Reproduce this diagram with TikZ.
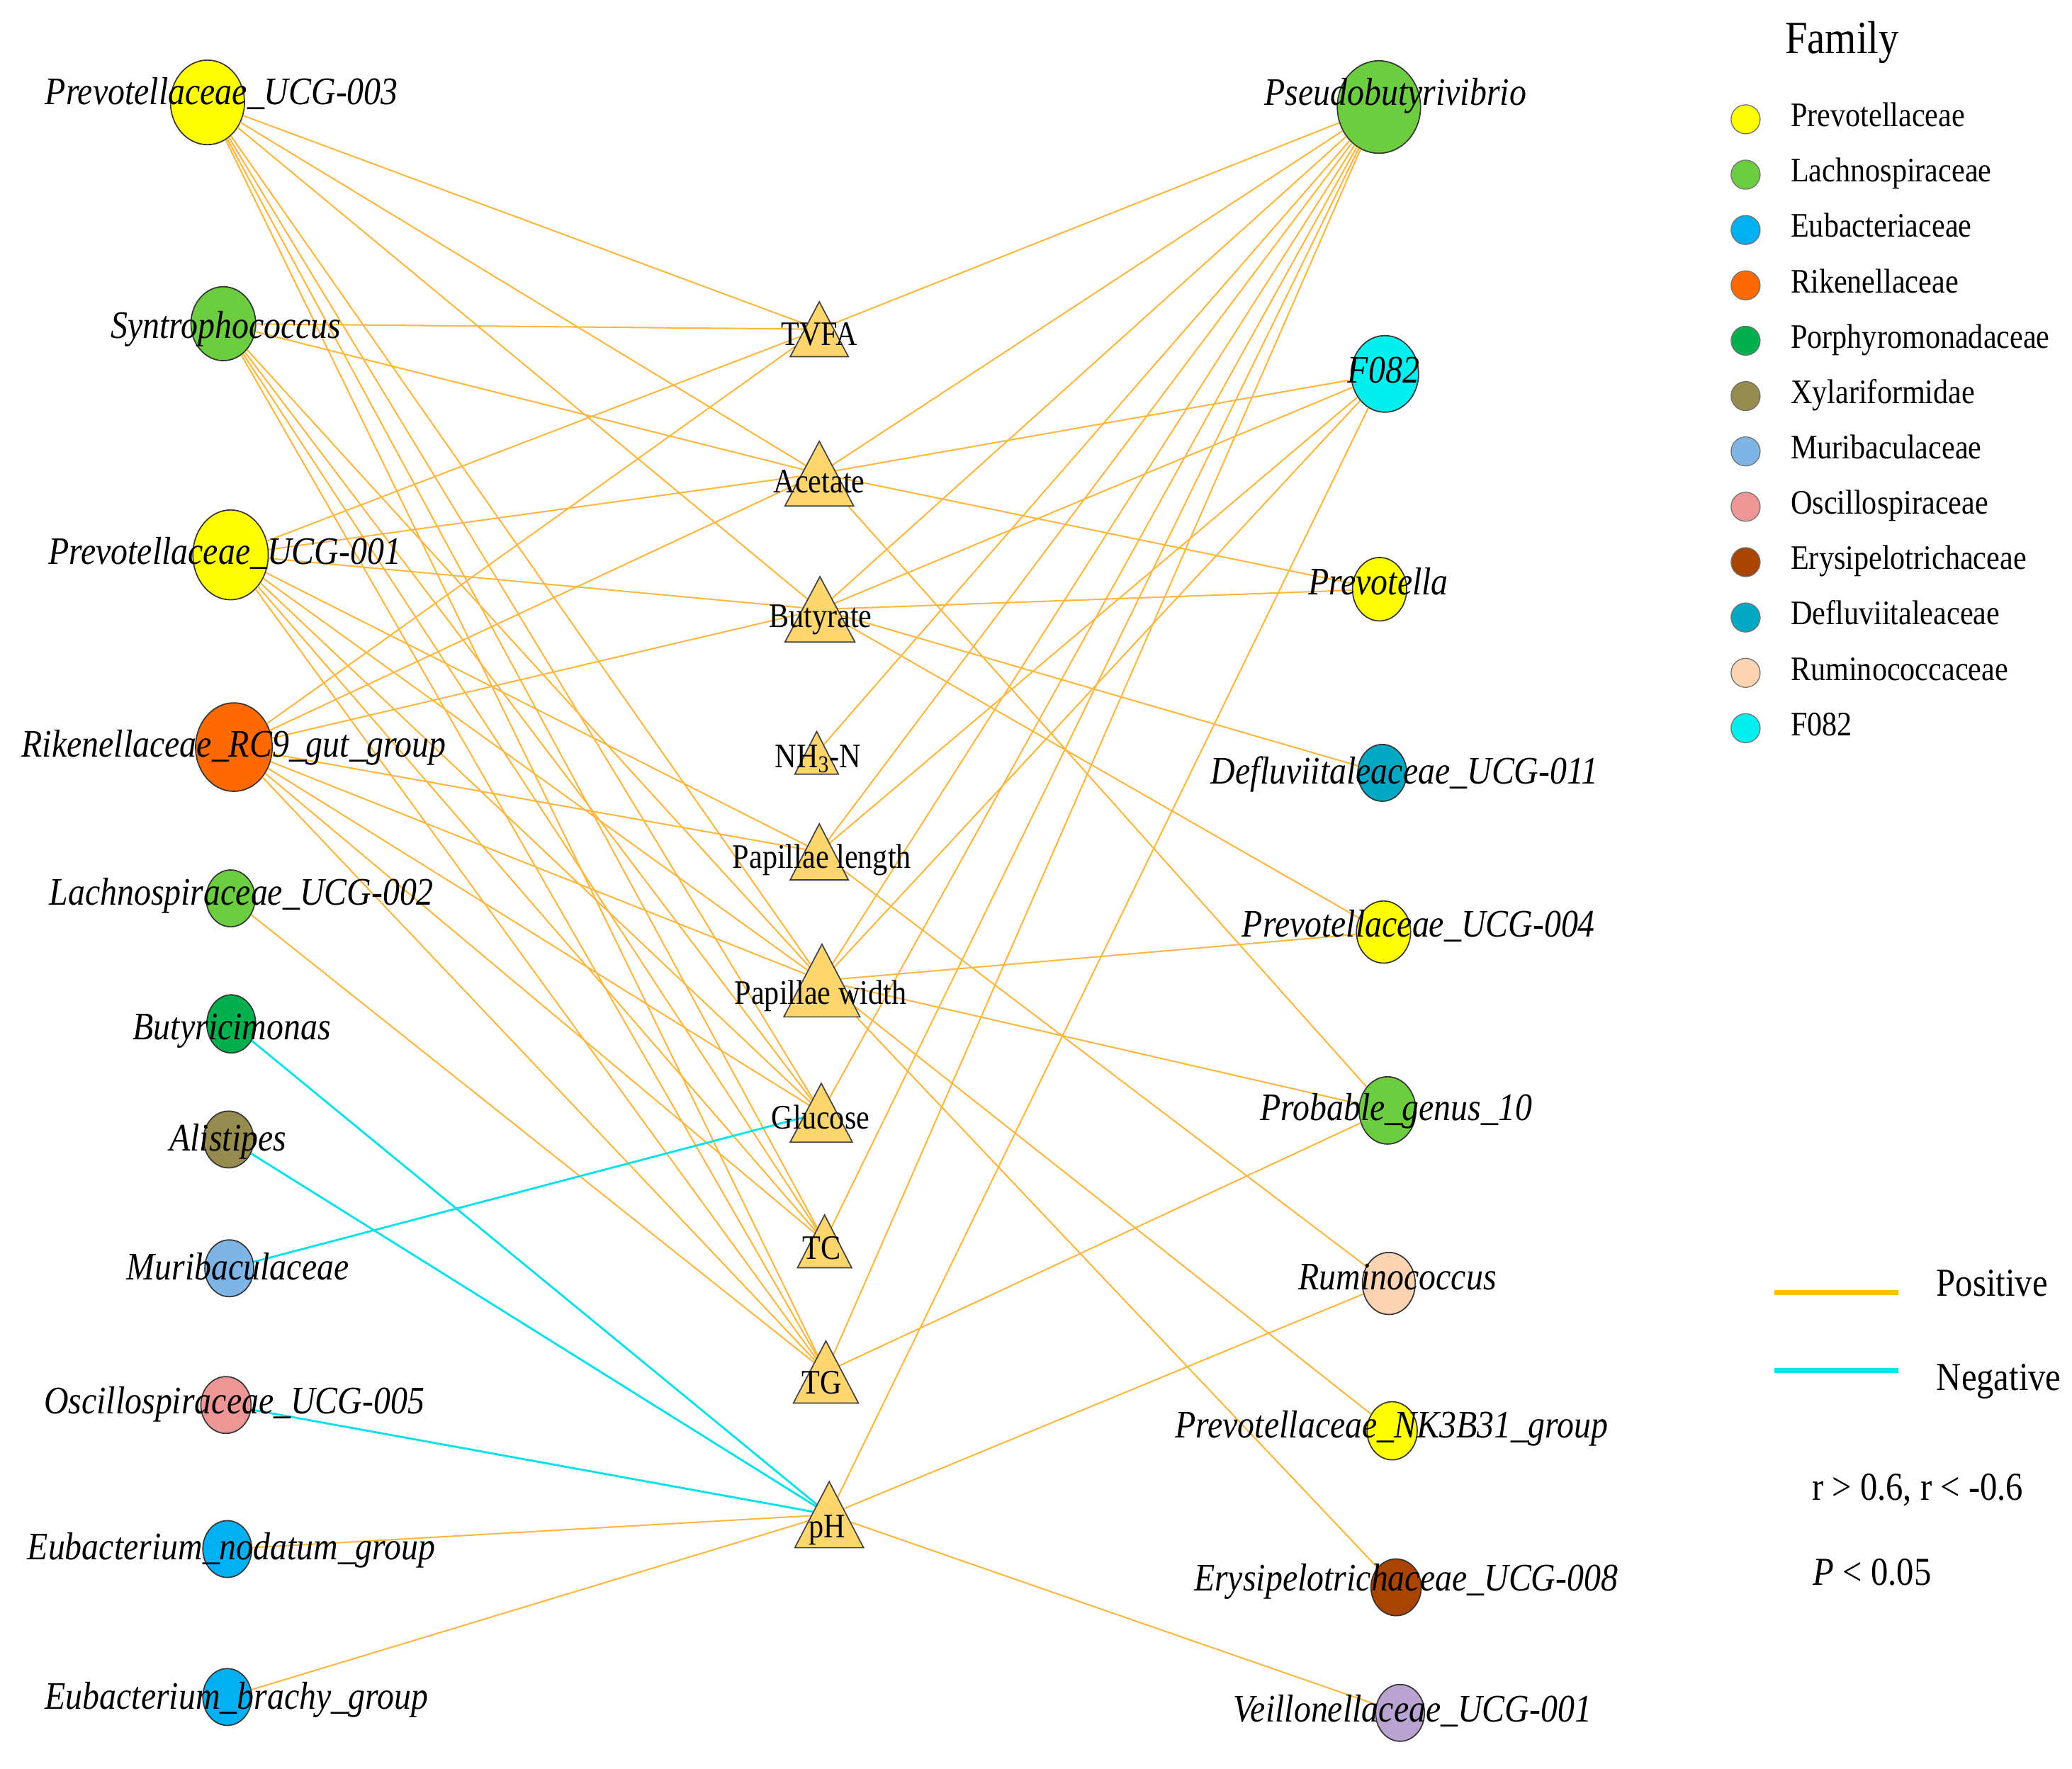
\documentclass[tikz,border=0pt]{standalone}
\usepackage{fontspec}
\setmainfont{Liberation Serif}[FakeStretch=0.87]
\usetikzlibrary{shapes.geometric}
\definecolor{edgeor}{RGB}{255,183,64}
\definecolor{edgecy}{RGB}{0,226,234}
\definecolor{legor}{RGB}{255,192,0}
\definecolor{legcy}{RGB}{0,229,240}
\definecolor{trifill}{RGB}{255,214,110}
\definecolor{cPrev}{HTML}{FFFF00}
\definecolor{cLach}{HTML}{6BCD3F}
\definecolor{cEuba}{HTML}{00B0F0}
\definecolor{cRike}{HTML}{FF6A00}
\definecolor{cPorp}{HTML}{00B04F}
\definecolor{cXyla}{HTML}{968B4E}
\definecolor{cMuri}{HTML}{7EB4E6}
\definecolor{cOsci}{HTML}{EE9595}
\definecolor{cErys}{HTML}{A84400}
\definecolor{cDefl}{HTML}{00A8C4}
\definecolor{cRumi}{HTML}{FDD3B2}
\definecolor{cF}{HTML}{00F0F0}
\definecolor{cVeil}{HTML}{B9A3D1}
\tikzset{
  circ/.style={ellipse, draw=black!80, line width=0.9pt, inner sep=0pt},
  posedge/.style={draw=edgeor, line width=1.1pt},
  negedge/.style={draw=edgecy, line width=1.5pt},
  tristyle/.style={fill=trifill, draw=black!75, line width=0.9pt, line join=miter},
  tlab/.style={font=\fontsize{26}{30}\selectfont, inner sep=0pt, text height=0.66em, text depth=0pt},
  clab/.style={font=\fontsize{29.5}{34}\selectfont\itshape, inner sep=0pt, text height=0.66em, text depth=0pt},
  glab/.style={font=\fontsize{26}{30}\selectfont, inner sep=0pt, text height=0.66em, text depth=0pt, anchor=west},
  klab/.style={font=\fontsize{30}{34}\selectfont, inner sep=0pt, text height=0.66em, text depth=0pt, anchor=west},
  gdot/.style={circ, line width=0.7pt, draw=black!55, minimum size=22pt},
  legline/.style={line width=3.8pt},
}
\newcommand\trishape[4]{\draw[tristyle] (#1-#4,#3) -- (#1,#2) -- (#1+#4,#3) -- cycle;}
\begin{document}
\begin{tikzpicture}[x=1pt,y=-1pt]
\useasboundingbox (0,0) rectangle (1568,1338.5);
% triangle centres
\coordinate (T1) at (620,249.2);
\coordinate (T2) at (620,358.5);
\coordinate (T3) at (620.5,461.25);
\coordinate (T4) at (618,569.85);
\coordinate (T5) at (620,644.8);
\coordinate (T6) at (622,742.2);
\coordinate (T7) at (621.5,842.25);
\coordinate (T8) at (624,939.6);
\coordinate (T9) at (625,1038.5);
\coordinate (T10) at (627.5,1146.5);
% left circles
\node[circ, fill=cPrev, minimum width=56pt, minimum height=64pt] (L1) at (157,77.5) {};
\node[circ, fill=cLach, minimum width=49pt, minimum height=56pt] (L2) at (169,245) {};
\node[circ, fill=cPrev, minimum width=57pt, minimum height=68pt] (L3) at (174.5,420) {};
\node[circ, fill=cRike, minimum width=58pt, minimum height=67pt] (L4) at (177,565.5) {};
\node[circ, fill=cLach, minimum width=37pt, minimum height=43pt] (L5) at (174.5,680) {};
\node[circ, fill=cPorp, minimum width=37pt, minimum height=44pt] (L6) at (175,775) {};
\node[circ, fill=cXyla, minimum width=38pt, minimum height=43pt] (L7) at (173,862.5) {};
\node[circ, fill=cMuri, minimum width=37pt, minimum height=43pt] (L8) at (173.5,960) {};
\node[circ, fill=cOsci, minimum width=38pt, minimum height=43pt] (L9) at (171,1063.5) {};
\node[circ, fill=cEuba, minimum width=37pt, minimum height=43pt] (L10) at (172,1172.5) {};
\node[circ, fill=cEuba, minimum width=37pt, minimum height=43pt] (L11) at (172,1284.5) {};
% right circles
\node[circ, fill=cLach, minimum width=63pt, minimum height=70pt] (R1) at (1043.5,81) {};
\node[circ, fill=cF, minimum width=51pt, minimum height=58pt] (R2) at (1048,283) {};
\node[circ, fill=cPrev, minimum width=41pt, minimum height=48pt] (R3) at (1044,446) {};
\node[circ, fill=cDefl, minimum width=37pt, minimum height=43pt] (R4) at (1046,585) {};
\node[circ, fill=cPrev, minimum width=41pt, minimum height=47pt] (R5) at (1047,705.5) {};
\node[circ, fill=cLach, minimum width=43pt, minimum height=51pt] (R6) at (1050,840.5) {};
\node[circ, fill=cRumi, minimum width=40pt, minimum height=47pt] (R7) at (1051,971.5) {};
\node[circ, fill=cPrev, minimum width=38pt, minimum height=44pt] (R8) at (1053.5,1083) {};
\node[circ, fill=cErys, minimum width=38pt, minimum height=43pt] (R9) at (1056.5,1201.5) {};
\node[circ, fill=cVeil, minimum width=37pt, minimum height=43pt] (R10) at (1059.5,1296.5) {};
% edges
\foreach \tg in {T1,T2,T3,T6,T7,T8,T9} \draw[posedge] (L1) -- (\tg);
\foreach \tg in {T1,T2,T6,T7,T8,T9} \draw[posedge] (L2) -- (\tg);
\foreach \tg in {T1,T2,T3,T5,T6,T7,T8,T9} \draw[posedge] (L3) -- (\tg);
\foreach \tg in {T1,T2,T3,T5,T6,T7,T8,T9} \draw[posedge] (L4) -- (\tg);
\draw[posedge] (L5) -- (T9);
\draw[negedge] (L6) -- (T10);
\draw[negedge] (L7) -- (T10);
\draw[negedge] (L8) -- (T7);
\draw[negedge] (L9) -- (T10);
\draw[posedge] (L10) -- (T10);
\draw[posedge] (L11) -- (T10);
\foreach \tg in {T1,T2,T3,T4,T5,T6,T7,T8,T9} \draw[posedge] (R1) -- (\tg);
\foreach \tg in {T2,T3,T5,T6,T10} \draw[posedge] (R2) -- (\tg);
\foreach \tg in {T2,T3} \draw[posedge] (R3) -- (\tg);
\draw[posedge] (R4) -- (T3);
\foreach \tg in {T3,T6} \draw[posedge] (R5) -- (\tg);
\foreach \tg in {T2,T6,T9} \draw[posedge] (R6) -- (\tg);
\foreach \tg in {T5,T10} \draw[posedge] (R7) -- (\tg);
\draw[posedge] (R8) -- (T6);
\draw[posedge] (R9) -- (T6);
\draw[posedge] (R10) -- (T10);
% triangles
\trishape{620}{228.4}{270}{22}
\trishape{620}{334}{383}{26}
\trishape{620.5}{436.5}{486}{26.5}
\trishape{618}{553.7}{586}{16.5}
\trishape{620}{623.6}{666}{22}
\trishape{622}{714.7}{769.7}{28.8}
\trishape{621.5}{820}{864.5}{23.5}
\trishape{624}{919.6}{959.6}{20.5}
\trishape{625}{1015}{1062}{24.6}
\trishape{627.5}{1121.5}{1171.5}{26}
% triangle labels
\node[tlab] (tl1) at (620,258) {TVFA};
\node[tlab] (tl2) at (620,369.7) {Acetate};
\node[tlab] (tl3) at (621,471.5) {Butyrate};
\node[tlab] (tl4) at (619,577.7) {NH\textsubscript{3}-N};
\node[tlab] (tl5) at (622,654) {Papillae length};
\node[tlab] (tl6) at (621,757) {Papillae width};
\node[tlab] (tl7) at (621,851) {Glucose};
\node[tlab] (tl8) at (622,949.7) {TC};
\node[tlab] (tl9) at (622,1052) {TG};
\node[tlab] (tl10) at (626,1160.6) {pH};
% circle labels
\node[clab] (ll1) at (167.7,75.8) {Prevotellaceae\_UCG-003};
\node[clab] (ll2) at (171,252.8) {Syntrophococcus};
\node[clab] (ll3) at (170,423.6) {Prevotellaceae\_UCG-001};
\node[clab] (ll4) at (177,569.5) {Rikenellaceae\_RC9\_gut\_group};
\node[clab] (ll5) at (182.7,681.7) {Lachnospiraceae\_UCG-002};
\node[clab] (ll6) at (175.5,783.4) {Butyricimonas};
\node[clab] (ll7) at (172.6,868) {Alistipes};
\node[clab] (ll8) at (180,965.6) {Muribaculaceae};
\node[clab] (ll9) at (177.3,1066.8) {Oscillospiraceae\_UCG-005};
\node[clab] (ll10) at (175,1177) {Eubacterium\_nodatum\_group};
\node[clab] (ll11) at (179,1290.4) {Eubacterium\_brachy\_group};
\node[clab] (rl1) at (1056,76.4) {Pseudobutyrivibrio};
\node[clab] (rl2) at (1047,286.7) {F082};
\node[clab] (rl3) at (1043,446.7) {Prevotella};
\node[clab] (rl4) at (1063,590) {Defluviitaleaceae\_UCG-011};
\node[clab] (rl5) at (1073.5,706) {Prevotellaceae\_UCG-004};
\node[clab] (rl6) at (1056.5,845) {Probable\_genus\_10};
\node[clab] (rl7) at (1057.5,973) {Ruminococcus};
\node[clab] (rl8) at (1053,1085) {Prevotellaceae\_NK3B31\_group};
\node[clab] (rl9) at (1064,1201) {Erysipelotrichaceae\_UCG-008};
\node[clab] (rl10) at (1069,1300) {Veillonellaceae\_UCG-001};
% legend: family
\node[font=\fontsize{35}{40}\selectfont, inner sep=0pt, text height=0.66em, text depth=0pt] (fam) at (1394,37) {Family};
\foreach \i/\c/\n in {0/cPrev/Prevotellaceae, 1/cLach/Lachnospiraceae, 2/cEuba/Eubacteriaceae, 3/cRike/Rikenellaceae, 4/cPorp/Porphyromonadaceae, 5/cXyla/Xylariformidae, 6/cMuri/Muribaculaceae, 7/cOsci/Oscillospiraceae, 8/cErys/Erysipelotrichaceae, 9/cDefl/Defluviitaleaceae, 10/cRumi/Ruminococcaceae, 11/cF/F082}{
  \node[gdot, fill=\c] (gd\i) at (1321,{90.3+41.9*\i}) {};
  \node[glab] (gt\i) at (1355,{92.5+41.9*\i}) {\n};
}
% legend: edges
\coordinate (pa) at (1343,978.3);
\coordinate (pb) at (1436.6,978.3);
\coordinate (na) at (1343,1037.4);
\coordinate (nb) at (1436.6,1037.4);
\draw[legline, legor] (pa) -- (pb);
\draw[legline, legcy] (na) -- (nb);
\node[klab] (kpos) at (1465.3,977.5) {Positive};
\node[klab] (kneg) at (1465.3,1049) {Negative};
\node[klab] (kr) at (1371,1132.3) {r > 0.6, r < -0.6};
\node[klab] (kp) at (1372,1196.7) {\textit{P} < 0.05};
\end{tikzpicture}
\end{document}
